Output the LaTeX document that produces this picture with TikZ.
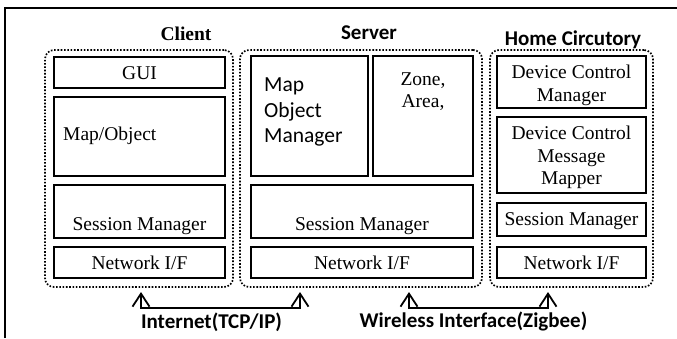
\documentclass[tikz,border=0pt]{standalone}
\usepackage{fontspec}
\setmainfont{Liberation Serif}
\newfontfamily\calibri{Carlito}
\usetikzlibrary{arrows.meta}
\begin{document}
\begin{tikzpicture}[x=1pt,y=-1pt,
  box/.style={draw, line width=1.6pt, inner sep=0pt},
  group/.style={draw, line width=1.7pt, dash pattern=on 1.6pt off 1.7pt, rounded corners=9pt, inner sep=0pt},
  txt/.style={font=\fontsize{19.5}{23}\selectfont, inner sep=0pt, anchor=base},
  sanstxt/.style={font=\calibri\fontsize{21.5}{25.5}\selectfont, inner sep=0pt, anchor=base west},
  title/.style={font=\calibri\bfseries\fontsize{21}{24}\selectfont, inner sep=0pt, anchor=base},
  link/.style={line width=1.8pt, {Straight Barb[length=13pt,width=17pt]}-{Straight Barb[length=13pt,width=17pt]}}
]
\useasboundingbox (0,0) rectangle (677,338);
% frame edges
\draw[line width=1.8pt] (5,338) -- (5,8) -- (677,8);

% ---- groups ----
\node[group, minimum width=188, minimum height=237] (client) at (139,168.5) {};
\node[group, minimum width=242, minimum height=237] (server) at (361,168.5) {};
\node[group, minimum width=163, minimum height=237] (home) at (571.5,168.5) {};

\node[font=\bfseries\fontsize{19.5}{23}\selectfont, inner sep=0pt, anchor=base] (tclient) at (186,40) {Client};
\node[title] (tserver) at (369,39.5) {Server};
\node[title] (thome) at (573,45) {Home Circutory};

% ---- client ----
\node[box, minimum width=171, minimum height=31] (cgui) at (139.5,72.5) {};
\node[txt] (cguit) at (139.5,79.5) {GUI};
\node[box, minimum width=171, minimum height=79] (cmap) at (139.5,136.5) {};
\node[txt, anchor=base west] (cmapt) at (63,140.5) {Map/Object};
\node[box, minimum width=171, minimum height=53] (csess) at (139.5,211.5) {};
\node[txt] (csesst) at (139.5,230) {Session Manager};
\node[box, minimum width=171, minimum height=31] (cnet) at (139.5,262.5) {};
\node[txt] (cnett) at (139.5,269) {Network I/F};

% ---- server ----
\node[box, minimum width=117, minimum height=120] (smom) at (309.5,116) {};
\node[sanstxt] (smomt1) at (264,91.7) {Map};
\node[sanstxt] (smomt2) at (264,117.2) {Object};
\node[sanstxt] (smomt3) at (264,142.5) {Manager};
\node[box, minimum width=100, minimum height=120] (szone) at (423,116) {};
\node[txt] (szonet1) at (423,85) {Zone,};
\node[txt] (szonet2) at (423,107.5) {Area,};
\node[box, minimum width=222, minimum height=53] (ssess) at (362,211.5) {};
\node[txt] (ssesst) at (362,230) {Session Manager};
\node[box, minimum width=222, minimum height=31] (snet) at (362,262.5) {};
\node[txt] (snett) at (362,269) {Network I/F};

% ---- home circuitry ----
\node[box, minimum width=149, minimum height=52] (hdcm) at (571.5,82) {};
\node[txt] (hdcmt1) at (571.5,78.5) {Device Control};
\node[txt] (hdcmt2) at (571.5,101) {Manager};
\node[box, minimum width=149, minimum height=76] (hmap) at (571.5,155) {};
\node[txt] (hmapt1) at (571.5,139) {Device Control};
\node[txt] (hmapt2) at (571.5,162) {Message};
\node[txt] (hmapt3) at (571.5,184.5) {Mapper};
\node[box, minimum width=149, minimum height=33] (hsess) at (571.5,219.5) {};
\node[txt] (hsesst) at (571.5,225.5) {Session Manager};
\node[box, minimum width=149, minimum height=31] (hnet) at (571.5,262.5) {};
\node[txt] (hnett) at (571.5,269) {Network I/F};

% ---- links ----
\coordinate (iL) at (141,292);
\coordinate (iR) at (300,292);
\coordinate (iLb) at (141,308);
\coordinate (iRb) at (300,308);
\draw[link] (iL) -- (iLb) -- (iRb) -- (iR);
\node[title] (tinet) at (211.5,328) {Internet(TCP/IP)};

\coordinate (wL) at (409,292);
\coordinate (wR) at (548,292);
\coordinate (wLb) at (409,308);
\coordinate (wRb) at (548,308);
\draw[link] (wL) -- (wLb) -- (wRb) -- (wR);
\node[title] (twire) at (473.5,327.5) {Wireless Interface(Zigbee)};
\end{tikzpicture}
\end{document}
